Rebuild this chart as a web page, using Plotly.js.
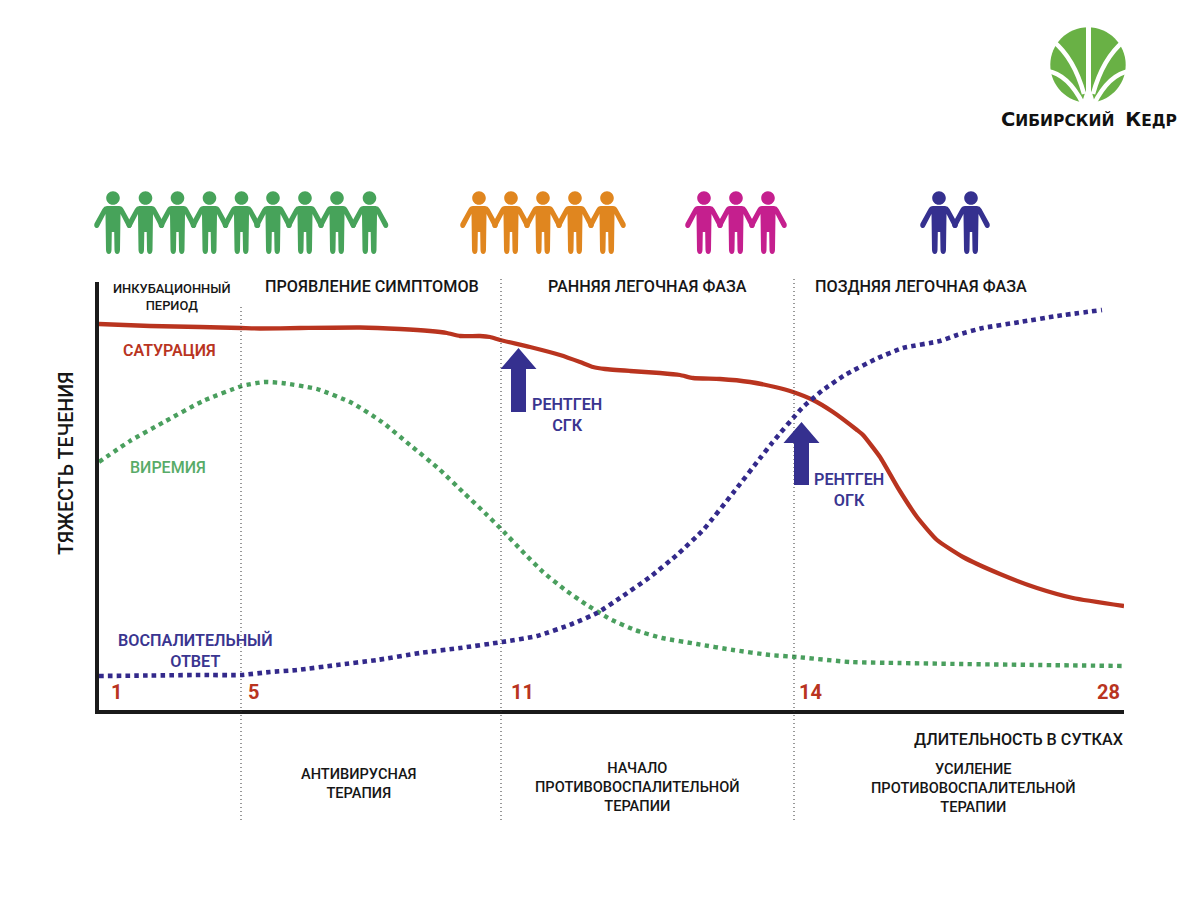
<!DOCTYPE html>
<html><head><meta charset="utf-8">
<script src="https://cdn.plot.ly/plotly-3.0.1.min.js"></script>
<style>html,body{margin:0;padding:0;background:#fff}#c{width:1200px;height:898px}</style></head>
<body><div id="c"></div>
<script>
// Time position along the axis (days are not evenly spaced in the source) and severity level
const satX=[99,150,200,241,260,300,360,400,430,447,460,480,490,500,530,560,580,593,605,630,660,680,693,720,750,775,793,813,833,857,863,880,898,917,937,963,1000,1037,1073,1124];
const satY=[384,382,381,380,379.5,380,380.5,379,377,375,372,372,371,368,361,353,346,341,339,337,335,333,330,329,326,321,316,308,296,278,273,251,220,191,168,151,134,120,110,102];
const virX=[99,130,164,203,242,264,282,317,352,382,410,439,465,485,504,523,543,564,587,610,635,662,697,733,770,797,850,900,960,1040,1124];
const virY=[246,267,286,307,322,326,325,319,305,286,263,239,214,195,176,156,136,119,103,89,78,70,64,58,53,51,46,45,44,43,42];
const infX=[99,150,200,241,270,297,337,377,420,460,502,537,572,597,620,650,678,704,733,761,772,802,823,845,878,903,940,957,983,1020,1057,1102];
const infY=[32,32.5,33,33,36,38,43,48,55,60,66,72,84,95,110,131,154,179,215,251,265,300,318,333,350,360,367,373,380,386,392,398];
const dayPos=[99,241,501,794,1124];
const dayLabels=['1','5','11','14','28'];
const phaseLines=[241,501,794];
const groups=[
 {color:'#47a35a',centers:[113,145.5,177.5,209.5,241.5,273,305,337,369.5]},
 {color:'#e0861f',centers:[479,511,543,575,607]},
 {color:'#c51f8e',centers:[704,736,768]},
 {color:'#35308f',centers:[939,971]}
];
const RED='#b9341f',GREEN='#4a9f5e',GREENTXT='#58ab68',BLUE='#33298b',BLUETXT='#3a3590',INK='#161616';
const W=1200,H=898,ML=99,MR=76,MT=282,MB=188;
const fx=x=>(x-ML)/(W-ML-MR), fy=y=>(H-MB-y)/(H-MT-MB);
// path helper: page pixels → paper coordinates
function P(cmds){return cmds.map(c=>{
  const op=c[0];if(op==='Z')return 'Z';
  let s=op;for(let i=1;i<c.length;i+=2){s+=(i>1?' ':'')+fx(c[i]).toFixed(5)+','+fy(c[i+1]).toFixed(5);}
  return s;}).join(' ');}
function paperShape(cmds,fill,extra){return Object.assign({type:'path',xref:'paper',yref:'paper',path:P(cmds),fillcolor:fill,line:{width:0}},extra||{});}
function circle(cx,cy,r){const k=r*0.5523;return [['M',cx-r,cy],['C',cx-r,cy-k,cx-k,cy-r,cx,cy-r],['C',cx+k,cy-r,cx+r,cy-k,cx+r,cy],['C',cx+r,cy+k,cx+k,cy+r,cx,cy+r],['C',cx-k,cy+r,cx-r,cy+k,cx-r,cy],['Z']];}
function person(c){
 return circle(c,198,6.8).concat([
 ['M',c-6,206],['L',c+6,206],['Q',c+9,206,c+10.5,209],['L',c+18.5,223.5],['Q',c+19.5,227,c+17,228],['Q',c+15,228.5,c+14,226.5],['L',c+7.5,214],
 ['L',c+7,250],['Q',c+6.7,254,c+4.2,254],['Q',c+1.7,254,c+1.5,250],['L',c+1.2,232],['L',c-1.2,232],['L',c-1.5,250],['Q',c-1.7,254,c-4.2,254],['Q',c-6.7,254,c-7,250],
 ['L',c-7.5,214],['L',c-14,226.5],['Q',c-15,228.5,c-17,228],['Q',c-19.5,227,c-18.5,223.5],['L',c-10.5,209],['Q',c-9,206,c-6,206],['Z']]);
}
function arrow(tipX,tipY,baseY,botY,half,shaft){
 return [['M',tipX,tipY],['L',tipX+half,baseY],['L',tipX+shaft,baseY],['L',tipX+shaft,botY],['L',tipX-shaft,botY],['L',tipX-shaft,baseY],['L',tipX-half,baseY],['Z']];
}
const shapes=[];
groups.forEach(g=>g.centers.forEach(c=>shapes.push(paperShape(person(c),g.color))));
phaseLines.forEach((x,i)=>shapes.push({type:'line',xref:'x',yref:'paper',x0:x,x1:x,y0:fy(820),y1:fy(i===0?306:276),line:{color:'#333',width:1,dash:'1px,3px'},layer:'above'}));
shapes.push(paperShape(arrow(518.5,348,369,412,18,7.5),'#35308f'));
shapes.push(paperShape(arrow(801.5,422,443,485,18,7.5),'#35308f'));
// logo
const LG='#69b145',cx=1088,cy=65,R=37.7;
shapes.push(paperShape(circle(cx,cy,R),LG));
const white=(cmds,w)=>shapes.push({type:'path',xref:'paper',yref:'paper',path:P(cmds),line:{color:'#fff',width:w},fillcolor:'rgba(0,0,0,0)'});
white([['M',1088.5,25],['L',1088.5,92]],5);
white([['M',1053,41],['Q',1074,58,1084,94]],4.5);
white([['M',1124,41],['Q',1103,58,1093,94]],4.5);
white([['M',1047,71],['Q',1068,74,1083,104]],4.5);
white([['M',1130,71],['Q',1109,74,1094,104]],4.5);
shapes.push(paperShape([['M',1081,106],['L',1085,93],['L',1088.5,86],['L',1092,93],['L',1096,106],['Z']],'#ffffff'));

const F='Roboto, Arial, sans-serif';
function note(x,y,text,size,color,opt,weight){
 return Object.assign({xref:'paper',yref:'paper',x:fx(x),y:fy(y),text:text,showarrow:false,xanchor:'center',yanchor:'middle',align:'center',
  font:{family:F,size:size,color:color,weight:weight||500}},opt||{});
}
const ann=[
 note(172,297,'ИНКУБАЦИОННЫЙ<br>ПЕРИОД',12.9,INK),
 note(371.5,286,'ПРОЯВЛЕНИЕ СИМПТОМОВ',16.2,INK),
 note(647.5,286,'РАННЯЯ ЛЕГОЧНАЯ ФАЗА',16.2,INK),
 note(920.5,286,'ПОЗДНЯЯ ЛЕГОЧНАЯ ФАЗА',16.2,INK),
 note(169.5,350,'САТУРАЦИЯ',16,RED,null,600),
 note(168,467,'ВИРЕМИЯ',16,GREENTXT,null,500),
 note(195.5,650,'ВОСПАЛИТЕЛЬНЫЙ<br>ОТВЕТ',16.2,BLUETXT,null,600),
 note(566.5,415,'РЕНТГЕН<br>СГК',16.2,BLUETXT,null,600),
 note(848.5,490,'РЕНТГЕН<br>ОГК',16.2,BLUETXT,null,600),
 note(66,464,'ТЯЖЕСТЬ ТЕЧЕНИЯ',19.7,INK,{textangle:-90}),
 note(1125,739,'ДЛИТЕЛЬНОСТЬ В СУТКАХ',16.2,INK,{xanchor:'right'}),
 note(358.5,783,'АНТИВИРУСНАЯ<br>ТЕРАПИЯ',14.6,INK),
 note(637,786.5,'НАЧАЛО<br>ПРОТИВОВОСПАЛИТЕЛЬНОЙ<br>ТЕРАПИИ',14.6,INK),
 note(973,788,'УСИЛЕНИЕ<br>ПРОТИВОВОСПАЛИТЕЛЬНОЙ<br>ТЕРАПИИ',14.6,INK),
 note(1088.5,120,'<span style="font-size:19.5px">С</span>ИБИРСКИЙ  <span style="font-size:19.5px">К</span>ЕДР',15.5,'#111',{font:{family:'"DejaVu Sans", sans-serif',size:15.5,color:'#111',weight:700}})
];
// day numbers, placed with the x axis scale
const dayOffset=[17,12,21,16,-16];
dayLabels.forEach((t,i)=>ann.push({xref:'x',yref:'paper',x:dayPos[i]+dayOffset[i],y:fy(692),text:t,showarrow:false,xanchor:'center',yanchor:'middle',font:{family:F,size:20,color:RED,weight:700}}));

const traces=[
 {x:satX,y:satY,mode:'lines',name:'Сатурация',line:{color:RED,width:4.3,shape:'spline',smoothing:0.5}},
 {x:virX,y:virY,mode:'lines',name:'Виремия',line:{color:GREEN,width:4.4,dash:'4.4px,4.4px',shape:'spline',smoothing:0.5}},
 {x:infX,y:infY,mode:'lines',name:'Воспалительный ответ',line:{color:BLUE,width:4.6,dash:'4.6px,4.2px',shape:'spline',smoothing:0.5}}
];
const layout={
 width:W,height:H,showlegend:false,paper_bgcolor:'#fff',plot_bgcolor:'#fff',
 margin:{l:ML,r:MR,t:MT,b:MB,pad:0},
 xaxis:{range:[99,1124],showline:true,linecolor:'#1a1a1a',linewidth:4,tickvals:dayPos,ticktext:dayLabels,showticklabels:false,ticks:'',showgrid:false,zeroline:false,fixedrange:true},
 yaxis:{range:[-2,426],showline:true,linecolor:'#1a1a1a',linewidth:4,showticklabels:false,ticks:'',showgrid:false,zeroline:false,fixedrange:true},
 shapes:shapes,annotations:ann
};
Plotly.newPlot('c',traces,layout,{displayModeBar:false,staticPlot:true});
</script></body></html>
